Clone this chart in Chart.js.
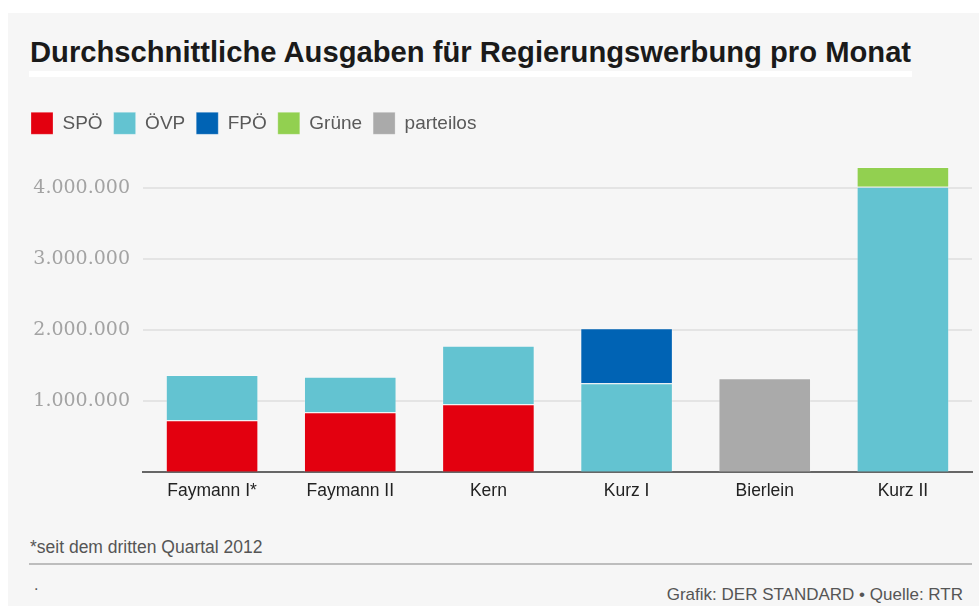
<!DOCTYPE html>
<html>
<head>
<meta charset="utf-8">
<script src="https://cdn.jsdelivr.net/npm/chart.js@4"></script>
<style>
  body { margin: 0; background: #fff; width: 979px; height: 606px; overflow: hidden; position: relative; font-family: "Liberation Sans", Arial, sans-serif; }
  #panel { position: absolute; left: 8px; top: 13px; width: 971px; height: 593px; background: #f6f6f6; }
  #titel { position: absolute; left: 30px; top: 38px; font-size: 29.2px; line-height: 1; font-weight: bold; color: #1a1a1a; white-space: nowrap; }
  #balken { position: absolute; left: 29px; top: 71px; width: 883px; height: 6px; background: #fff; }
  #wrap { position: absolute; left: 0; top: 95px; width: 979px; height: 420px; }
  #fussnote { position: absolute; left: 30px; top: 539px; font-size: 17.5px; line-height: 1; color: #555; white-space: nowrap; }
  #linie { position: absolute; left: 29px; top: 563px; width: 943px; height: 0; border-top: 2px solid #bdbdbd; }
  #punkt { position: absolute; left: 34px; top: 577px; font-size: 16px; line-height: 1; color: #555; }
  #quelle { position: absolute; right: 16px; top: 586px; font-size: 17px; line-height: 1; color: #555; white-space: nowrap; }
</style>
</head>
<body>
<div id="panel"></div>
<div id="titel">Durchschnittliche Ausgaben für Regierungswerbung pro Monat</div>
<div id="balken"></div>
<div id="wrap"><canvas id="grafik" width="979" height="420"></canvas></div>
<div id="fussnote">*seit dem dritten Quartal 2012</div>
<div id="linie"></div>
<div id="punkt">.</div>
<div id="quelle">Grafik: DER STANDARD • Quelle: RTR</div>
<script>
// Regierungen
const regierungen = ['Faymann I*', 'Faymann II', 'Kern', 'Kurz I', 'Bierlein', 'Kurz II'];

// Ausgaben pro Monat in Euro, nach Partei
const spo = [724000, 837000, 949000, null, null, null];
const ovp = [638000, 501000, 826000, 1245000, null, 4014000];
const fpo = [null, null, null, 775000, null, null];
const gruene = [null, null, null, null, null, 278000];
const parteilos = [null, null, null, null, 1315000, null];

// Achsenbeschriftung
const yTicks = [1000000, 2000000, 3000000, 4000000];

const parteien = ['SPÖ', 'ÖVP', 'FPÖ', 'Grüne', 'parteilos'];
const farben = ['#e3000f', '#63c3d1', '#0063b4', '#92d050', '#aaaaaa'];
const werte = [spo, ovp, fpo, gruene, parteilos];

const datasets = parteien.map((name, i) => ({
    label: name,
    data: werte[i],
    backgroundColor: farben[i],
    borderColor: 'rgba(255,255,255,0.25)',
    borderWidth: 1,
    categoryPercentage: 1,
    barPercentage: 0.67
}));

// Legende etwas höher machen, damit die Zeichenfläche passt
const legendeHoehe = {
    id: 'legendeHoehe',
    beforeInit(chart) {
        const fit = chart.legend.fit;
        chart.legend.fit = function () {
            fit.bind(chart.legend)();
            this.height = 58;
        };
    }
};

new Chart(document.getElementById('grafik'), {
    type: 'bar',
    data: { labels: regierungen, datasets: datasets },
    plugins: [legendeHoehe],
    options: {
        responsive: false,
        animation: false,
        layout: { padding: { left: 20, right: 7, top: 6.3, bottom: 0 } },
        plugins: {
            tooltip: { enabled: false },
            legend: {
                align: 'start',
                labels: {
                    boxWidth: 22,
                    boxHeight: 22,
                    padding: 11,
                    color: '#595959',
                    font: { family: 'Liberation Sans', size: 19 }
                }
            }
        },
        scales: {
            x: {
                stacked: true,
                grid: { display: false },
                border: { color: '#666', width: 2 },
                ticks: { color: '#222', padding: 1, font: { family: 'Liberation Sans', size: 17.5 } },
                afterFit(scale) { scale.height = 43.3; }
            },
            y: {
                stacked: true,
                min: 0,
                max: 4400000,
                grid: { color: '#e4e4e4', lineWidth: 2, drawTicks: false },
                border: { display: false },
                ticks: {
                    color: '#a3a3a3',
                    padding: 13,
                    font: { family: 'DejaVu Serif', size: 19 },
                    callback: v => v.toLocaleString('de-DE')
                },
                afterBuildTicks(scale) { scale.ticks = yTicks.map(v => ({ value: v })); },
                afterFit(scale) { scale.width = 123; }
            }
        }
    }
});
</script>
</body>
</html>
